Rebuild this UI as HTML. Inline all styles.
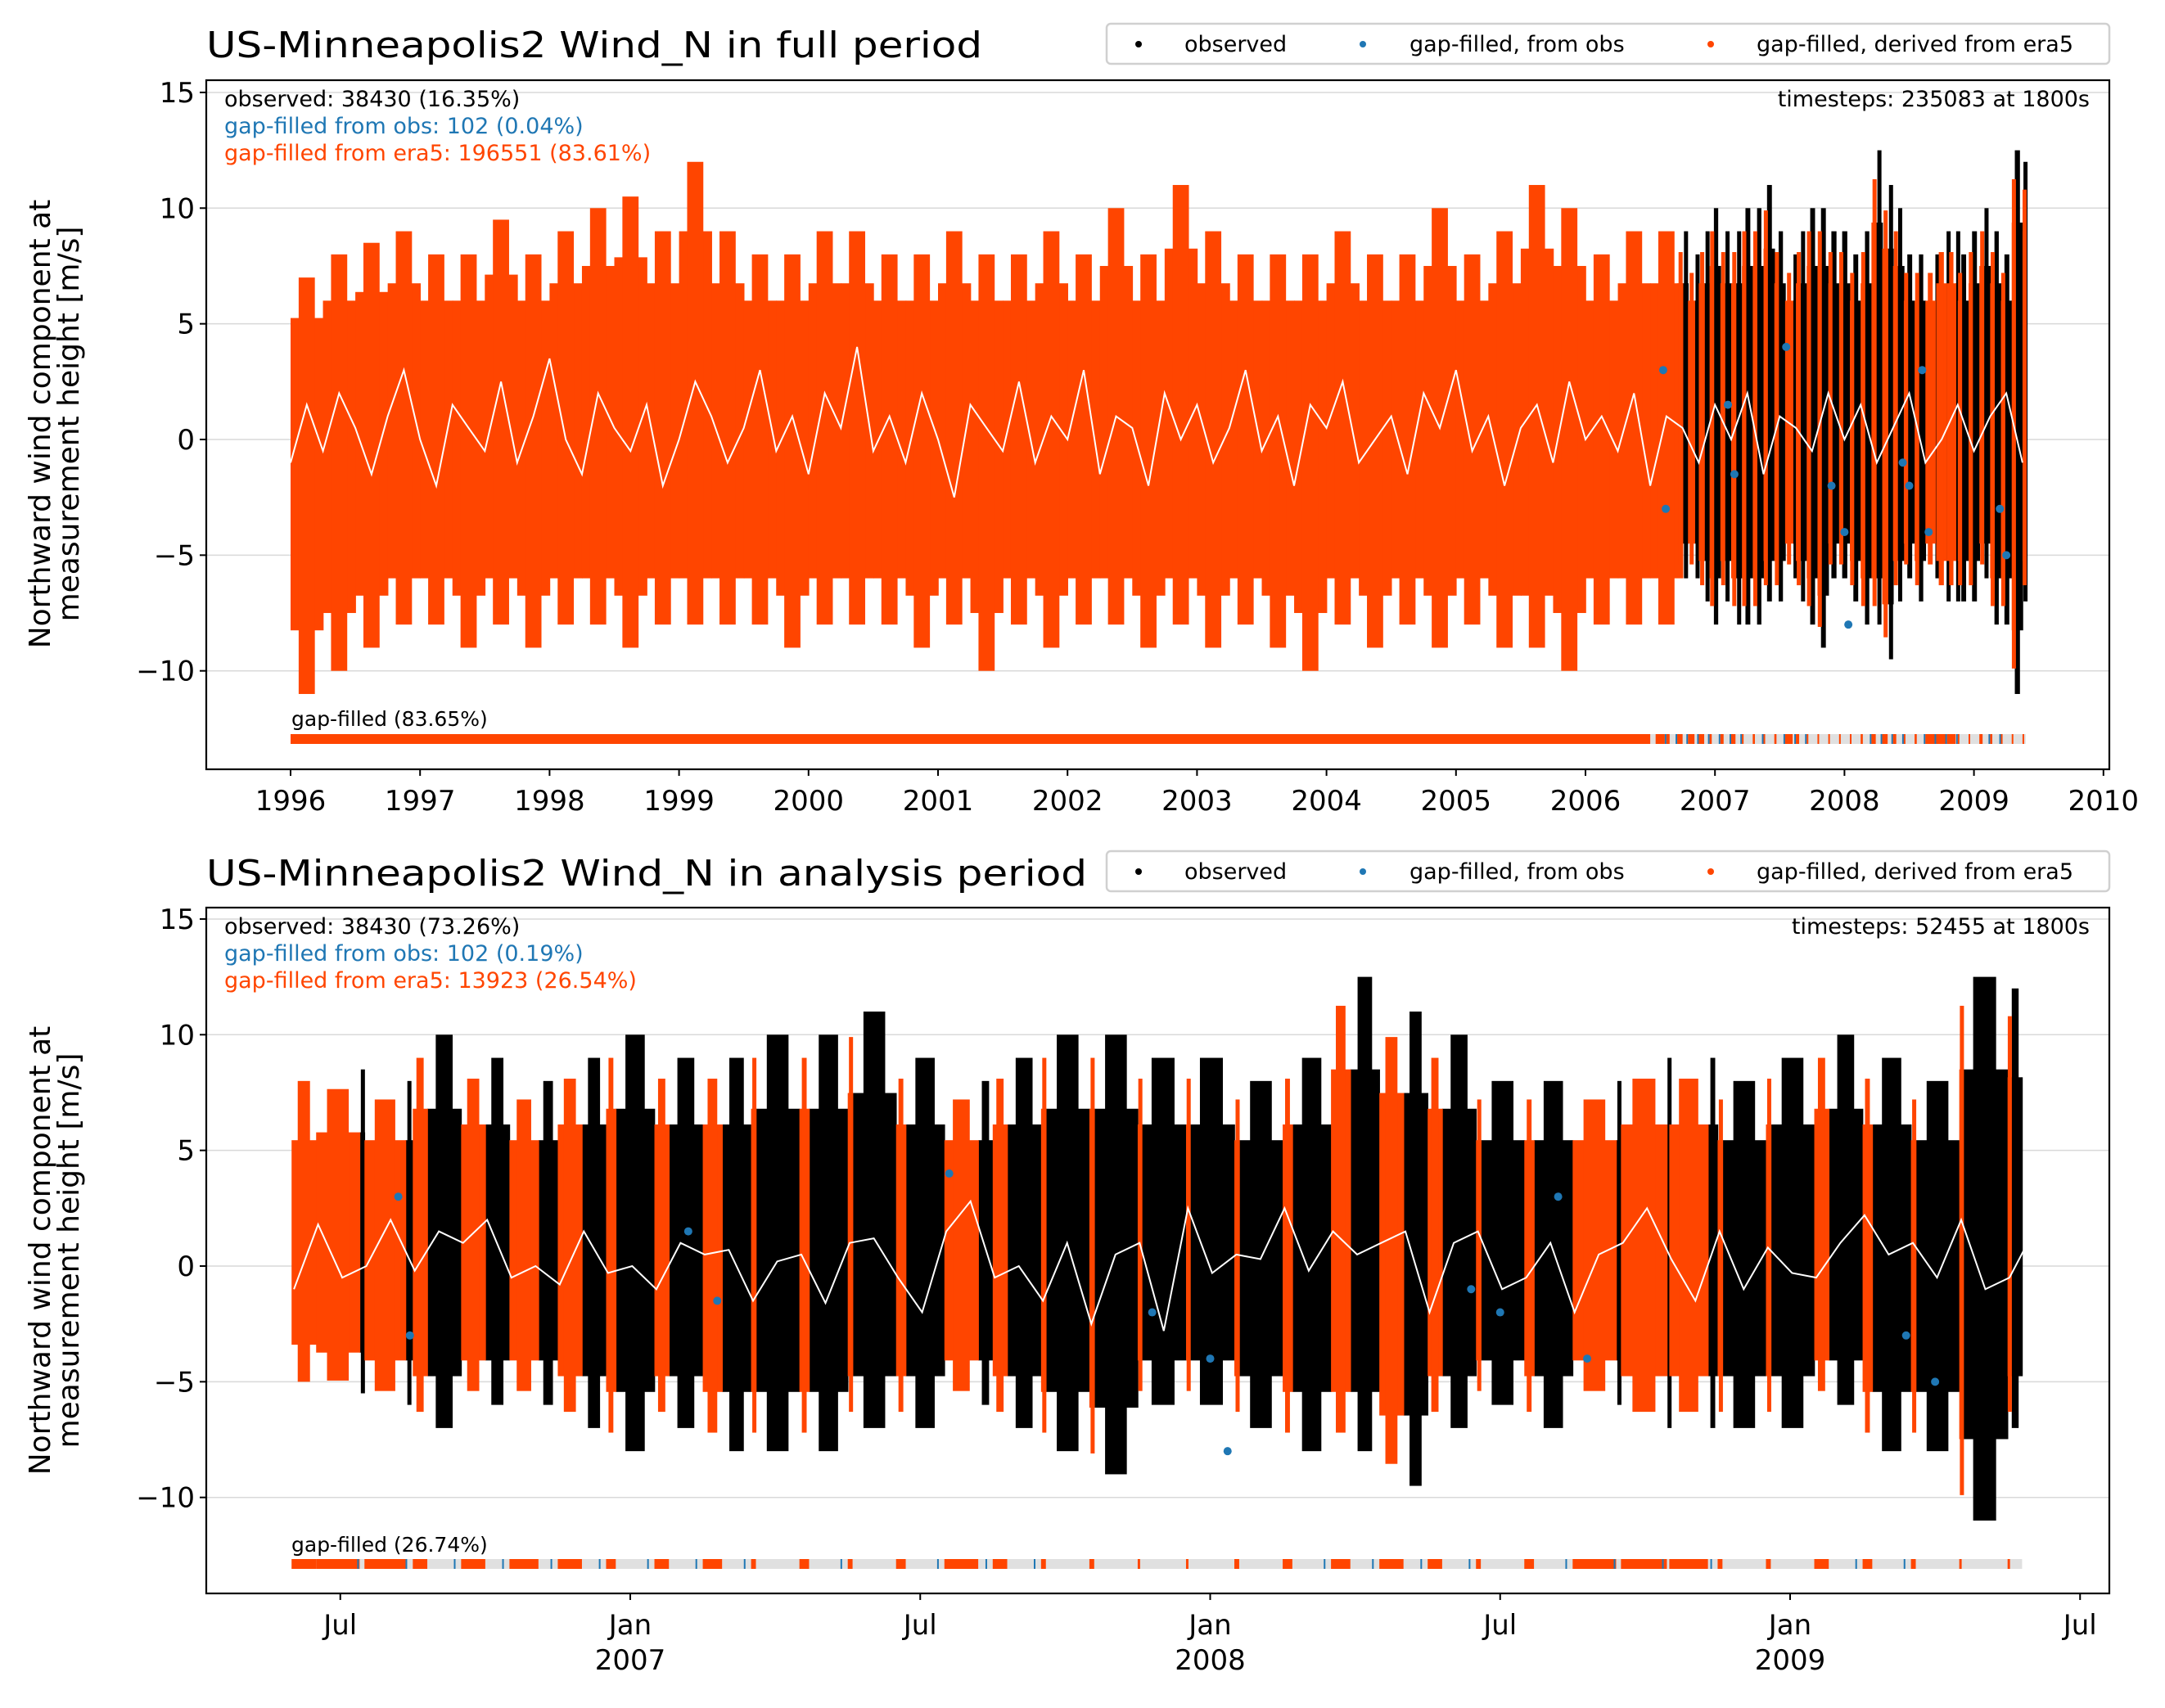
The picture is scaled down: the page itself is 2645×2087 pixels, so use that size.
<!DOCTYPE html>
<html><head><meta charset="utf-8"><title>US-Minneapolis2 Wind_N</title>
<style>
html,body{margin:0;padding:0;background:#fff;}
svg{display:block;font-family:"DejaVu Sans","Liberation Sans",sans-serif;}
</style></head>
<body>
<svg id="fig" width="2645" height="2087" viewBox="0 0 2645 2087" xmlns="http://www.w3.org/2000/svg">
<rect width="2645" height="2087" fill="#fff"/>
<g id="top"></g>
<g id="bot"></g>
</svg>
<script>
// ===== DATA =====
// full period quarterly envelopes (1996.0 .. 2006.75)
const fullQStart = 1996.0;
const fullQHi = [7,8,8.5,9,8,8,9.5,8,9,10,10.5,9,12,9,8,8,9,9,8,8,9,8,8,9,8,10,8,11,9,8,8,8,9,8,8,10,8,9,11,10,8,9,9];
const fullQLo = [-11,-10,-9,-8,-8,-9,-8,-9,-8,-8,-9,-8,-8,-8,-8,-9,-8,-8,-8,-9,-8,-10,-8,-9,-8,-8,-9,-8,-9,-8,-9,-10,-8,-9,-8,-9,-8,-9,-9,-10,-8,-8,-8];
// monthly envelopes from Jun 2006 .. Jun 2009
const monStart = 2006.375;
const monHi = [8,8.5,8,10,9,8,9,10,9,9,10,10,11,9,8,9,10,10,9,9,8,9,12.5,11,10,8,8,8,9,9,8,9,10,9,8,12.5,12];
const monLo = [-5,-5.5,-6,-7,-6,-6,-7,-8,-7,-8,-8,-8,-7,-7,-6,-7,-8,-9,-6,-6,-7,-8,-8,-9.5,-7,-6,-7,-6,-7,-7,-7,-7,-6,-8,-8,-11,-7];
const monEra5 = [1,0.9,0.85,0.3,0.5,0.6,0.5,0.2,0.3,0.4,0.1,0.2,0.1,0.2,0.7,0.3,0.1,0.1,0.05,0.05,0.1,0.2,0.4,0.5,0.3,0.1,0.2,0.9,0.95,0.8,0.1,0.1,0.3,0.2,0.1,0.05,0.05];
// white mean line, full period (every 1/8 year from 1996.0)
const fullMeanStep = 0.125;
const fullMean = [-1,1.5,-0.5,2,0.5,-1.5,1,3,0,-2,1.5,0.5,-0.5,2.5,-1,1,3.5,0,-1.5,2,0.5,-0.5,1.5,-2,0,2.5,1,-1,0.5,3,-0.5,1,-1.5,2,0.5,4,-0.5,1,-1,2,0,-2.5,1.5,0.5,-0.5,2.5,-1,1,0,3,-1.5,1,0.5,-2,2,0,1.5,-1,0.5,3,-0.5,1,-2,1.5,0.5,2.5,-1,0,1,-1.5,2,0.5,3,-0.5,1,-2,0.5,1.5,-1,2.5,0,1,-0.5,2,-2,1,0.5,-1,1.5,0,2,-1.5,1,0.5,-0.5,2,0,1.5,-1,0.5,2,-1,0,1.5,-0.5,1,2,-1];
// white mean line, analysis period (twice per month from mid Jun 2006)
const anMeanStep = 1/24;
const anMean = [-1,1.8,-0.5,0,2,-0.2,1.5,1,2,-0.5,0,-0.8,1.5,-0.3,0,-1,1,0.5,0.7,-1.5,0.2,0.5,-1.6,1,1.2,-0.5,-2,1.5,2.8,-0.5,0,-1.5,1,-2.5,0.5,1,-2.8,2.5,-0.3,0.5,0.3,2.5,-0.2,1.5,0.5,1,1.5,-2,1,1.5,-1,-0.5,1,-2,0.5,1,2.5,0.3,-1.5,1.5,-1,0.8,-0.3,-0.5,1,2.2,0.5,1,-0.5,2,-1,-0.5,1.5,1.8];
// blue points (gap-filled from obs): [year, value]
const blueT = [2006.6,2006.62,2007.1,2007.15,2007.55,2007.9,2008.0,2008.03,2008.45,2008.5,2008.6,2008.65,2009.2,2009.25];
const blueV = [3,-3,1.5,-1.5,4,-2,-4,-8,-1,-2,3,-4,-3,-5];
// ===== DRAW =====
const NS="http://www.w3.org/2000/svg";
const C_OBS="#000000", C_ERA="#ff4500", C_BLUE="#1f77b4";
function mk(parent,tag,attrs,text){const e=document.createElementNS(NS,tag);for(const k in attrs)e.setAttribute(k,attrs[k]);if(text!==undefined)e.textContent=text;parent.appendChild(e);return e;}

function panel(g,cfg){
  const {L,R,T,B,xf,yf}=cfg;
  [-10,-5,0,5,10,15].forEach(v=>{
    const l=mk(g,'line',{x1:L,x2:R,y1:yf(v),y2:yf(v),stroke:'#d9d9d9','stroke-width':1.5});
    
    
  });
  const dg=mk(g,'g',{});  
  return dg;
}
function drawBin(dg,xf,yf,t0,t1,hi,lo,frac,cf){
  const x0=xf(t0),x1=xf(t1),w=x1-x0;
  const core=[cf*hi,cf*lo];
  const ow=w*frac;
  if(frac<1){
    const r=mk(dg,'rect',{x:x0+ow,y:yf(core[0]),width:w-ow+0.8,height:yf(core[1])-yf(core[0]),fill:C_OBS});
    
    
    const s=mk(dg,'rect',{x:x0+ow+(w-ow)*0.25,y:yf(hi),width:Math.max(5,(w-ow)*0.5),height:yf(lo)-yf(hi),fill:C_OBS});
    
    
  }
  if(frac>0){
    const r=mk(dg,'rect',{x:x0,y:yf(core[0]),width:ow+0.8,height:yf(core[1])-yf(core[0]),fill:C_ERA});
    
    
    const k=frac<1?0.9:1;
    const s=mk(dg,'rect',{x:x0+ow*0.25,y:yf(hi*k),width:Math.max(5,ow*0.5),height:yf(lo*k)-yf(hi*k),fill:C_ERA});
    
    
  }
}
function meanLine(dg,xf,yf,start,step,arr){
  const pts=arr.map((v,i)=>xf(start+i*step).toFixed(1)+','+yf(v).toFixed(1)).join(' ');
  const p=mk(dg,'polyline',{points:pts,fill:'none',stroke:'#fff','stroke-width':2});
  
  
}
function blues(dg,xf,yf,tmin){
  blueT.forEach((t,i)=>{ if(t<tmin)return;
    const c=mk(dg,'circle',{cx:xf(t),cy:yf(blueV[i]),r:5,fill:C_BLUE});
    
    
  });
}
function gapBar(g,xf,y,t0,t1,bins){
  const base=mk(g,'rect',{x:xf(t0),y:y,width:xf(t1)-xf(t0),height:12,fill:'#e0e0e0'});
  
  
  bins.forEach(b=>{
    const r=mk(g,'rect',{x:xf(b[0]),y:y,width:Math.max(2,xf(b[1])-xf(b[0])),height:12,fill:b[2]});
    
    
  });
}
function frame(g,L,R,T,B){
  const f=mk(g,'rect',{x:L,y:T,width:R-L,height:B-T,fill:'none',stroke:'#000','stroke-width':2.2});
  
  
}
function yAxis(g,L,yf,cy){
  [-10,-5,0,5,10,15].forEach(v=>{
    mk(g,'line',{x1:L-8,x2:L,y1:yf(v),y2:yf(v),stroke:'#000','stroke-width':2});
    const t=mk(g,'text',{x:L-14,y:yf(v)+12,'text-anchor':'end','font-size':34},(v<0?'\u2212':'')+Math.abs(v));
    
    
  });
  const a=mk(g,'text',{transform:`translate(61,${cy}) rotate(-90)`,'text-anchor':'middle','font-size':36},'Northward wind component at');
  
  
  const b=mk(g,'text',{transform:`translate(96,${cy}) rotate(-90)`,'text-anchor':'middle','font-size':36},'measurement height [m/s]');
  
  
}
function legend(g,y){
  const box=mk(g,'rect',{x:1352,y:y,width:1225,height:49,rx:5,fill:'#fff',stroke:'#d0d0d0','stroke-width':2.5});
  
  
  [[1391,1447,C_OBS,'observed'],[1665,1722,C_BLUE,'gap-filled, from obs'],[2090,2146,C_ERA,'gap-filled, derived from era5']].forEach(e=>{
    mk(g,'circle',{cx:e[0],cy:y+25,r:4,fill:e[2]});
    const t=mk(g,'text',{x:e[1],y:y+34,'font-size':27},e[3]);
    
    
  });
}
function annots(g,L,R,T,obs,blue,era,ts){
  [[obs,'#000'],[blue,C_BLUE],[era,C_ERA]].forEach((a,i)=>{
    const t=mk(g,'text',{x:L+22,y:T+32+i*33,'font-size':27,fill:a[1]},a[0]);
    
    
  });
  const t=mk(g,'text',{x:R-24,y:T+32,'font-size':27,'text-anchor':'end'},ts);
  
  
}
function eraBins(arr,start,step,clip0){
  const out=[];
  arr.forEach((f,i)=>{const t0=start+i*step; if(t0<clip0)return;
    if(f>0) out.push([t0,t0+step*Math.min(1,f),C_ERA]);
    if(f<1 && f>0.15) out.push([t0+step*0.85,t0+step*0.88,C_BLUE]);
  });
  return out;
}
const TEND=2009.4;

// ---------- TOP PANEL ----------
(function(){
  const g=document.getElementById('top');
  const L=252,R=2577,T=98,B=940;
  const xf=t=>355+(t-1996)*158.2, yf=v=>537-v*28.27;
  const dg=panel(g,{L,R,T,B,xf,yf});
  fullQHi.forEach((h,i)=>{const t0=fullQStart+i*0.25; drawBin(dg,xf,yf,t0,Math.min(t0+0.25,2006.75),h,fullQLo[i],1,0.75);});
  monHi.forEach((h,i)=>{const t0=monStart+i/12; if(t0<2006.7)return; drawBin(dg,xf,yf,t0,Math.min(t0+1/12,TEND),h,monLo[i],monEra5[i],0.75);});
  blues(dg,xf,yf,2006.5);
  meanLine(dg,xf,yf,1996.0,fullMeanStep,fullMean);
  gapBar(g,xf,897,1996.0,TEND,[[1996.0,2006.5,C_ERA]].concat(eraBins(monEra5,monStart,1/12,2006.5)));
  const gt=mk(g,'text',{x:356,y:887,'font-size':25},'gap-filled (83.65%)');
  
  
  frame(g,L,R,T,B);
  yAxis(g,L,yf,518);
  for(let y=1996;y<=2010;y++){
    mk(g,'line',{x1:xf(y),x2:xf(y),y1:B,y2:B+8,stroke:'#000','stroke-width':2});
    const t=mk(g,'text',{x:xf(y),y:B+50,'text-anchor':'middle','font-size':34},String(y));
    
    
  }
  const ti=mk(g,'text',{x:252,y:70,'font-size':44,textLength:948,lengthAdjust:'spacingAndGlyphs'},'US-Minneapolis2 Wind_N in full period');
  
  
  legend(g,29);
  annots(g,L,R,T,'observed: 38430 (16.35%)','gap-filled from obs: 102 (0.04%)','gap-filled from era5: 196551 (83.61%)','timesteps: 235083 at 1800s');
})();

// ---------- BOTTOM PANEL ----------
(function(){
  const g=document.getElementById('bot');
  const L=252,R=2577,T=1109,B=1947;
  const xf=t=>770+(t-2007)*708.5, yf=v=>1547-v*28.27;
  const dg=panel(g,{L,R,T,B,xf,yf});
  monHi.forEach((h,i)=>{let t0=monStart+i/12, t1=t0+1/12; if(t0<2006.416)t0=2006.416; if(t1>TEND)t1=TEND; if(t1<=t0)return; drawBin(dg,xf,yf,t0,t1,h,monLo[i],monEra5[i],0.68);});
  blues(dg,xf,yf,2006.4);
  meanLine(dg,xf,yf,2006.42,anMeanStep,anMean);
  gapBar(g,xf,1905,2006.416,TEND,eraBins(monEra5,monStart,1/12,2006.3).map(b=>[Math.max(b[0],2006.416),Math.min(b[1],TEND),b[2]]));
  const gt=mk(g,'text',{x:356,y:1896,'font-size':25},'gap-filled (26.74%)');
  
  
  frame(g,L,R,T,B);
  yAxis(g,L,yf,1528);
  const ticks=[[2006.5,'Jul',''],[2007,'Jan','2007'],[2007.5,'Jul',''],[2008,'Jan','2008'],[2008.5,'Jul',''],[2009,'Jan','2009'],[2009.5,'Jul','']];
  ticks.forEach(k=>{
    mk(g,'line',{x1:xf(k[0]),x2:xf(k[0]),y1:B,y2:B+8,stroke:'#000','stroke-width':2});
    const t=mk(g,'text',{x:xf(k[0]),y:B+50,'text-anchor':'middle','font-size':34},k[1]);
    
    
    if(k[2]){const y2=mk(g,'text',{x:xf(k[0]),y:B+93,'text-anchor':'middle','font-size':34},k[2]);
      
      }
  });
  const ti=mk(g,'text',{x:252,y:1082,'font-size':44,textLength:1076,lengthAdjust:'spacingAndGlyphs'},'US-Minneapolis2 Wind_N in analysis period');
  
  
  legend(g,1040);
  annots(g,L,R,T,'observed: 38430 (73.26%)','gap-filled from obs: 102 (0.19%)','gap-filled from era5: 13923 (26.54%)','timesteps: 52455 at 1800s');
})();
</script>
</body></html>
